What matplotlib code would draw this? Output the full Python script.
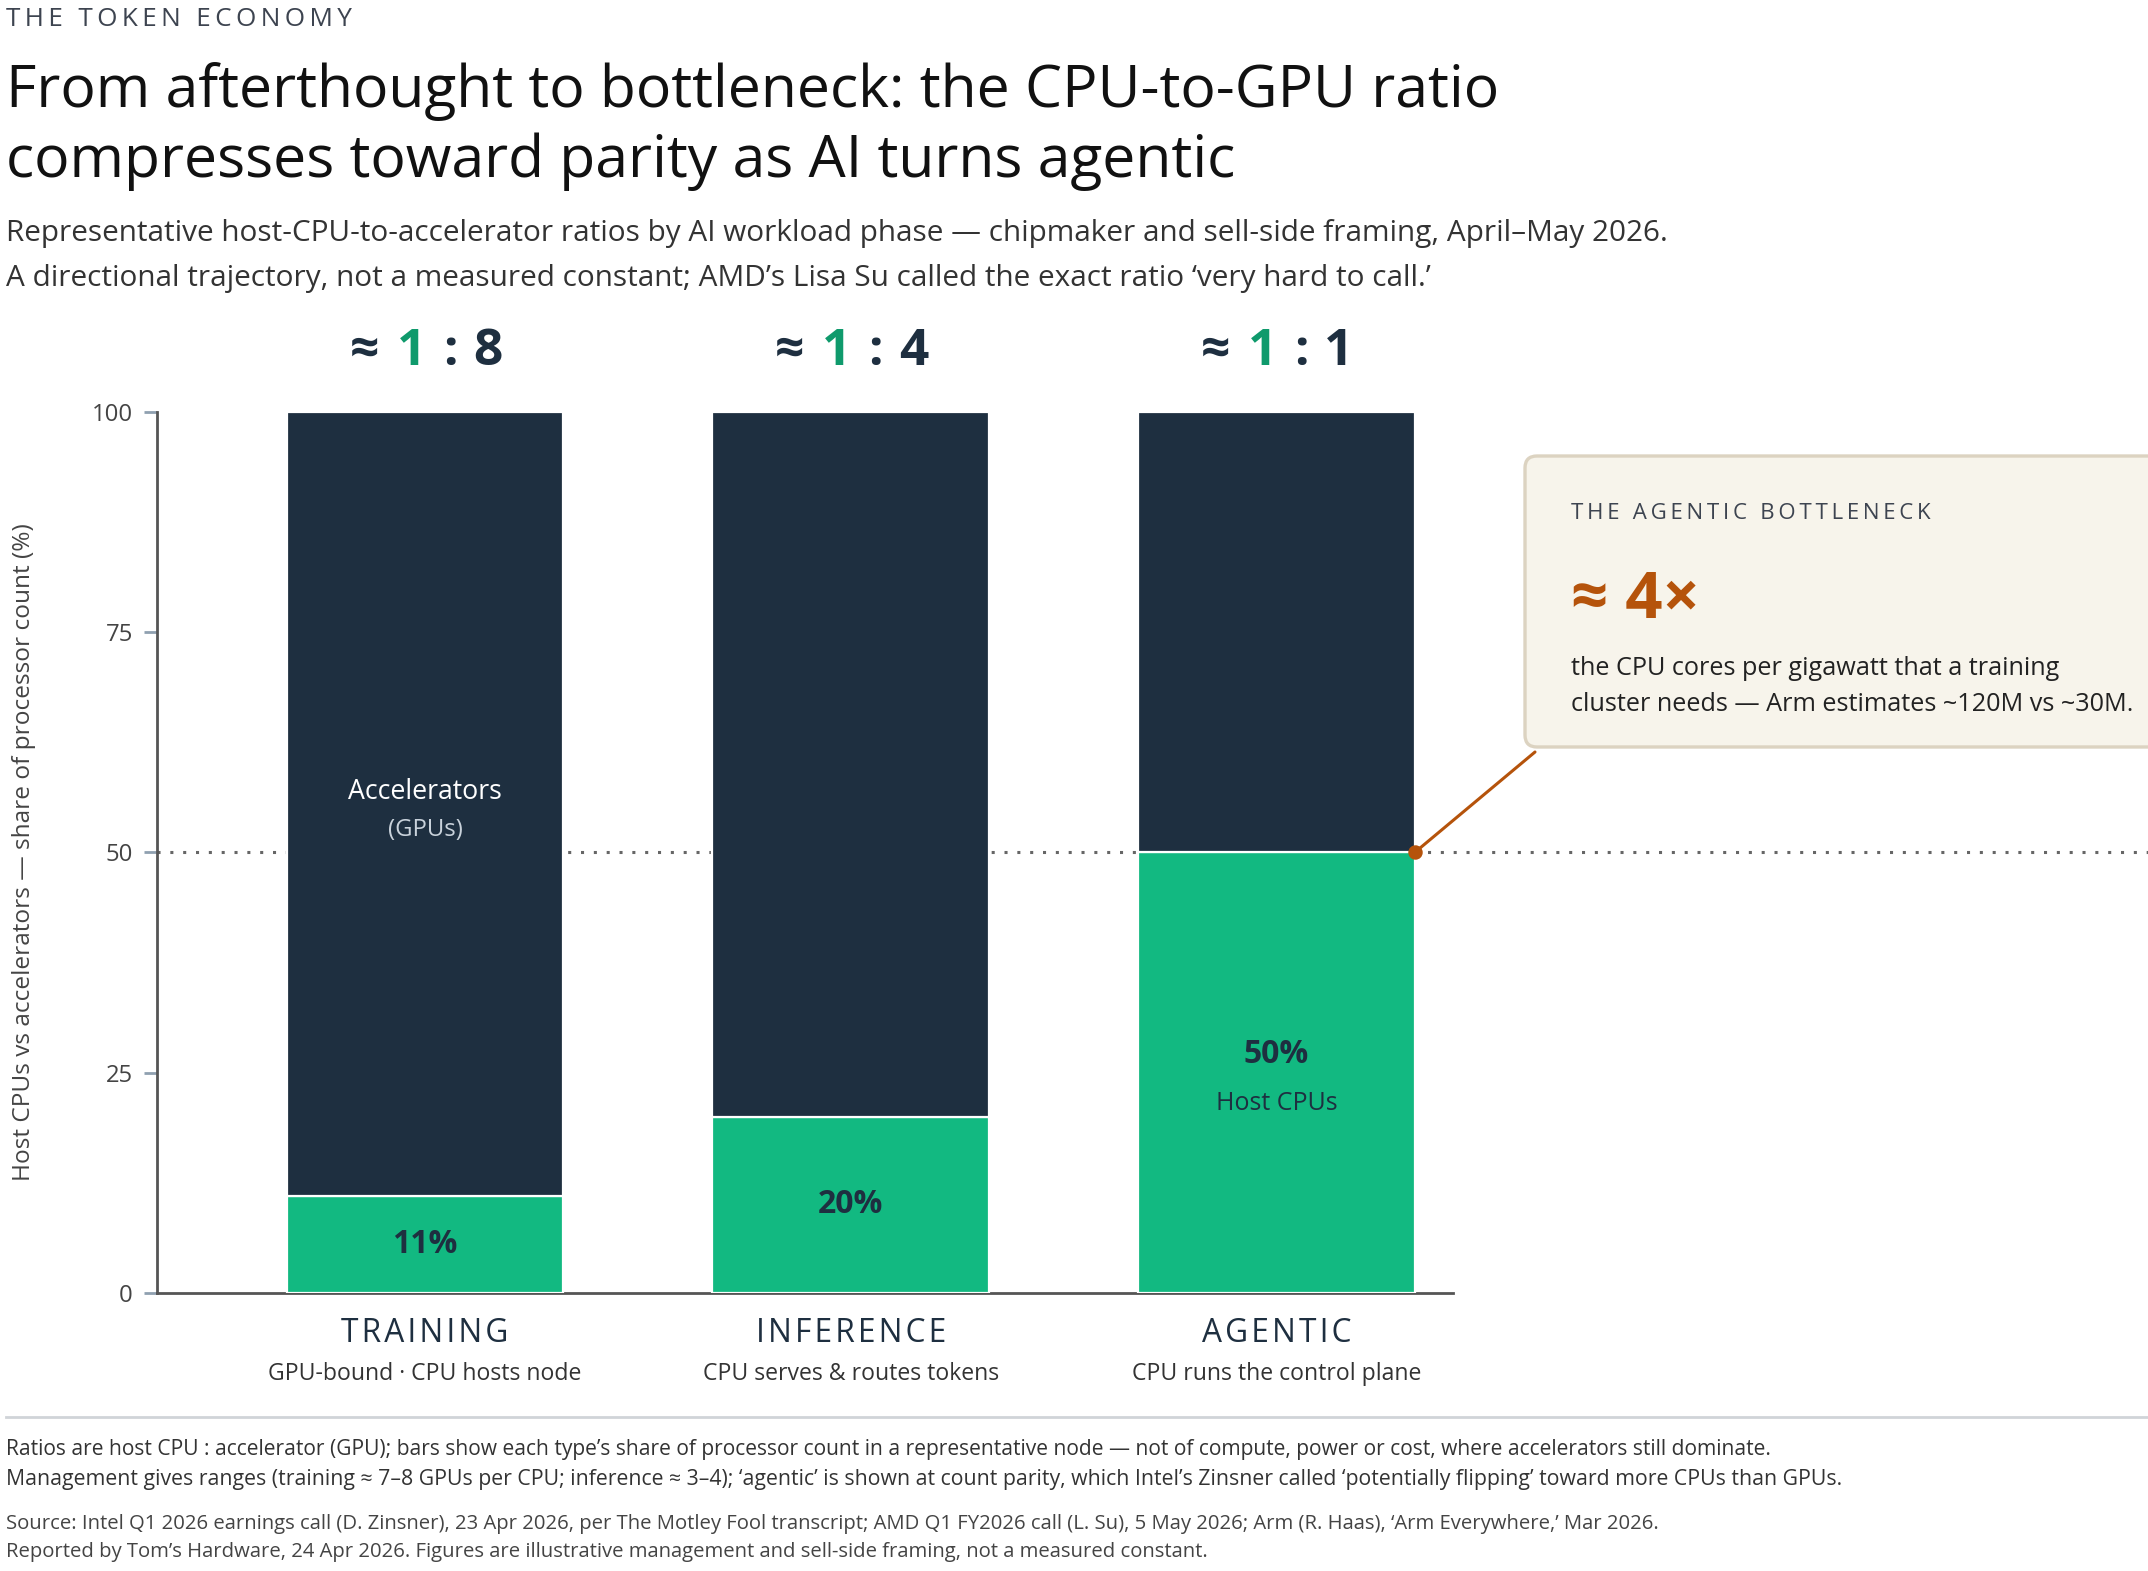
import matplotlib
matplotlib.use('Agg')
import matplotlib.pyplot as plt
import matplotlib.transforms as mtransforms
from matplotlib.patches import FancyBboxPatch
from matplotlib.lines import Line2D
import numpy as np

# data
phases = ['TRAINING', 'INFERENCE', 'AGENTIC']
phase_notes = ['GPU-bound · CPU hosts node', 'CPU serves & routes tokens', 'CPU runs the control plane']
cpu_share = [11, 20, 50]
gpu_share = [100 - v for v in cpu_share]
ratio_cpu = ['1', '1', '1']
ratio_gpu = ['8', '4', '1']
y_ticks = [0, 25, 50, 75, 100]
parity_line = 50

NAVY = '#1e2f40'
GREEN = '#12b981'
GREEN_DARK = '#0f9a6c'
ORANGE = '#b5530b'
TEXT = '#222222'
GREY = '#444444'

plt.rcParams['font.family'] = ['Open Sans', 'DejaVu Sans']

W, H = 2148, 1571
DPI = 200
fig = plt.figure(figsize=(W / DPI, H / DPI), dpi=DPI)
fig.patch.set_facecolor('white')


def fx(px):
    return px / W


def fy(py):
    return 1 - py / H


def spaced(s, sep='\u2009'):
    return sep.join(list(s))


# header
fig.text(fx(6), fy(26), spaced('THE TOKEN ECONOMY'), fontsize=9.4, color='#3d4450', va='baseline')
fig.text(fx(6), fy(107), 'From afterthought to bottleneck: the CPU-to-GPU ratio', fontsize=21.2, color='#111111', va='baseline')
fig.text(fx(6), fy(177), 'compresses toward parity as AI turns agentic', fontsize=21.2, color='#111111', va='baseline')
fig.text(fx(6), fy(241), 'Representative host-CPU-to-accelerator ratios by AI workload phase \u2014 chipmaker and sell-side framing, April\u2013May 2026.',
         fontsize=10.7, color='#333333', va='baseline')
fig.text(fx(6), fy(286), 'A directional trajectory, not a measured constant; AMD\u2019s Lisa Su called the exact ratio \u2018very hard to call.\u2019',
         fontsize=10.7, color='#333333', va='baseline')

# axes
ax = fig.add_axes([fx(157), fy(1293), fx(1453) - fx(157), fy(412) - fy(1293)])
x = np.arange(len(phases))
bw = 0.65
ax.bar(x, cpu_share, bw, color=GREEN, edgecolor='white', linewidth=0.8, zorder=3)
ax.bar(x, gpu_share, bw, bottom=cpu_share, color=NAVY, edgecolor='white', linewidth=0.8, zorder=3)

ax.set_xlim(-0.63, 2.415)
ax.set_ylim(0, 100)
ax.set_yticks(y_ticks)
ax.set_yticklabels([str(t) for t in y_ticks], fontsize=8.6, color=GREY)
ax.tick_params(axis='y', length=4.7, width=1.0, color='#8fa0b0', pad=4)
ax.set_xticks([])
for s in ['top', 'right']:
    ax.spines[s].set_visible(False)
ax.spines['left'].set_color('#555555')
ax.spines['bottom'].set_color('#555555')
ax.spines['left'].set_linewidth(1.0)
ax.spines['bottom'].set_linewidth(1.0)

ax.set_ylabel('Host CPUs vs accelerators \u2014 share of processor count (%)', fontsize=8.8, color=GREY)
ax.yaxis.set_label_coords((36 - 157) / (1453 - 157), 0.5)

# parity line running out to the figure edge
ax.plot([0, (W - 157) / (1453 - 157)], [parity_line, parity_line], transform=ax.get_yaxis_transform(),
        color='#666666', linestyle=(0, (1, 3.2)), linewidth=1.1, clip_on=False, zorder=1)

# ratio headers
for i in range(len(phases)):
    kw = dict(xy=(x[i], 100), xycoords='data', textcoords='offset points', ha='center', va='baseline',
              fontsize=18.5, fontweight='bold', annotation_clip=False)
    ax.annotate('\u2248', xytext=(-22, 17), color=NAVY, **kw)
    ax.annotate(ratio_cpu[i], xytext=(-5, 17), color=GREEN_DARK, **kw)
    ax.annotate(':', xytext=(9, 17), color=NAVY, **kw)
    ax.annotate(ratio_gpu[i], xytext=(22.5, 17), color=NAVY, **kw)

# category labels
for i in range(len(phases)):
    ax.annotate(spaced(phases[i], '\u200a'), xy=(x[i], 0), xytext=(0, -17.8), textcoords='offset points',
                ha='center', va='baseline', fontsize=11.4, color=NAVY, annotation_clip=False)
    ax.annotate(phase_notes[i], xy=(x[i], 0), xytext=(0, -31.5), textcoords='offset points',
                ha='center', va='baseline', fontsize=8.3, color='#333333', annotation_clip=False)

# in-bar labels
for i in range(len(phases)):
    mid = cpu_share[i] / 2
    if i == 2:
        ax.annotate(f'{cpu_share[i]}%', xy=(x[i], mid), xytext=(0, 6.5), textcoords='offset points',
                    ha='center', va='center', fontsize=11.5, fontweight='bold', color=NAVY)
        ax.annotate('Host CPUs', xy=(x[i], mid), xytext=(0, -11), textcoords='offset points',
                    ha='center', va='center', fontsize=9, color=NAVY)
    else:
        ax.annotate(f'{cpu_share[i]}%', xy=(x[i], mid), xytext=(0, 0), textcoords='offset points',
                    ha='center', va='center', fontsize=11.5, fontweight='bold', color=NAVY)

gmid = cpu_share[0] + gpu_share[0] / 2
ax.annotate('Accelerators', xy=(x[0], gmid), xytext=(0, 4.5), textcoords='offset points',
            ha='center', va='center', fontsize=9.6, color='white')
ax.annotate('(GPUs)', xy=(x[0], gmid), xytext=(0, -9.5), textcoords='offset points',
            ha='center', va='center', fontsize=8.6, color='#c9d2db')

# callout box
px = mtransforms.IdentityTransform()
box = FancyBboxPatch((1525, H - 747), 700, 747 - 456, boxstyle='round,pad=0,rounding_size=12',
                     facecolor='#f7f4eb', edgecolor='#dcd3c1', linewidth=1.2, transform=px, zorder=0)
fig.patches.append(box)
fig.text(fx(1571), fy(519), spaced('THE AGENTIC BOTTLENECK'), fontsize=8.0, color='#3d4450', va='baseline')
fig.text(fx(1571), fy(618), '\u2248 4\u00d7', fontsize=23.5, fontweight='bold', color=ORANGE, va='baseline')
fig.text(fx(1571), fy(675), 'the CPU cores per gigawatt that a training', fontsize=9.1, color=TEXT, va='baseline')
fig.text(fx(1571), fy(711), 'cluster needs \u2014 Arm estimates ~120M vs ~30M.', fontsize=9.1, color=TEXT, va='baseline')

# leader from the agentic bar's parity corner to the box
corner = (x[2] + bw / 2, parity_line)
ax.annotate('', xy=corner, xycoords='data', xytext=(fx(1535), fy(752)), textcoords='figure fraction',
            arrowprops=dict(arrowstyle='-', color=ORANGE, linewidth=1.1, shrinkA=0, shrinkB=0),
            annotation_clip=False)
ax.plot([corner[0]], [corner[1]], 'o', color=ORANGE, markersize=4.2, clip_on=False, zorder=5)

# footer
fig.add_artist(Line2D([fx(6), 1], [fy(1417), fy(1417)], color='#d0d4d8', linewidth=1.0))
fig.text(fx(6), fy(1455), 'Ratios are host CPU : accelerator (GPU); bars show each type\u2019s share of processor count in a representative node \u2014 not of compute, power or cost, where accelerators still dominate.',
         fontsize=7.55, color='#333333', va='baseline')
fig.text(fx(6), fy(1485), 'Management gives ranges (training \u2248 7\u20138 GPUs per CPU; inference \u2248 3\u20134); \u2018agentic\u2019 is shown at count parity, which Intel\u2019s Zinsner called \u2018potentially flipping\u2019 toward more CPUs than GPUs.',
         fontsize=7.65, color='#333333', va='baseline')
fig.text(fx(6), fy(1529), 'Source: Intel Q1 2026 earnings call (D. Zinsner), 23 Apr 2026, per The Motley Fool transcript; AMD Q1 FY2026 call (L. Su), 5 May 2026; Arm (R. Haas), \u2018Arm Everywhere,\u2019 Mar 2026.',
         fontsize=7.3, color='#444444', va='baseline')
fig.text(fx(6), fy(1557), 'Reported by Tom\u2019s Hardware, 24 Apr 2026. Figures are illustrative management and sell-side framing, not a measured constant.',
         fontsize=7.3, color='#444444', va='baseline')

fig.savefig('out.png', dpi=DPI)
